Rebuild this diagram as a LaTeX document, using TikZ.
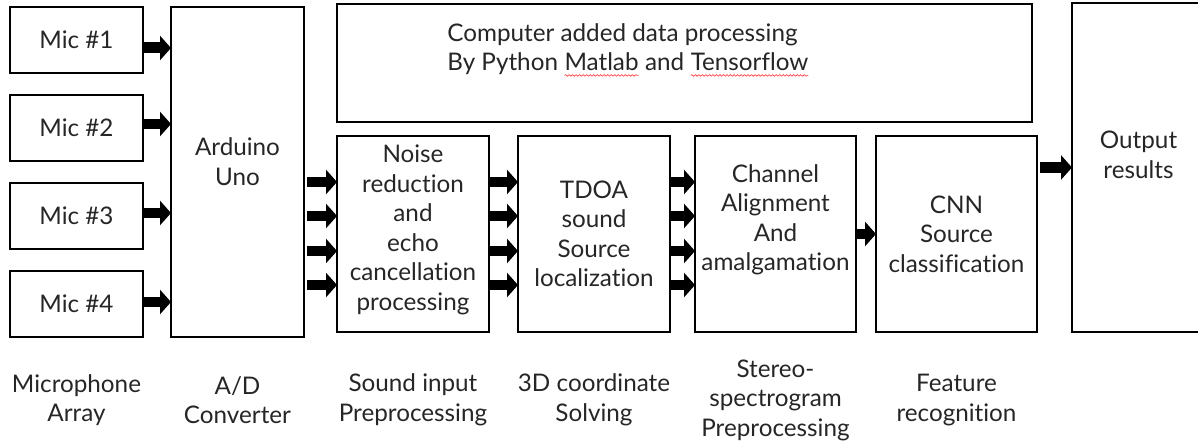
\documentclass[tikz,border=0pt]{standalone}
\usepackage{fontspec}
\setmainfont{Lato}[Ligatures=NoCommon]
\usetikzlibrary{calc}
\usetikzlibrary{arrows.meta}
\usetikzlibrary{decorations.pathmorphing}

% red wavy underline (spell check marks)
\newcommand\spellwave[1]{\tikz[baseline=(w.base)]{\node[inner sep=0pt, outer sep=0pt] (w) {#1};
  \draw[red!80, line width=0.35pt, decorate, decoration={snake, amplitude=0.45pt, segment length=2pt}]
    ([yshift=-2.6pt]w.base west) -- ([yshift=-2.6pt]w.base east);}}

\tikzset{
  box/.style={draw, line width=1.1pt, inner sep=0pt, outer sep=0pt, align=center, text=black!85},
  txt/.style={inner sep=0pt, align=center, text=black!85},
  blk/.style={line width=0.22cm, -{Triangle[length=0.22cm,width=0.48cm]}},
}

\begin{document}
\begin{tikzpicture}[x=0.02cm, y=-0.02cm, font=\fontsize{13.8}{16.8}\selectfont]
\useasboundingbox (0,0) rectangle (1198,446);

% microphone array
\foreach \i/\y in {1/40,2/128,3/216,4/304}
  \node[box, minimum width=2.66cm, minimum height=1.32cm] (mic\i) at (76.5,\y) {Mic \#\i};

% A/D converter
\node[box, minimum width=2.66cm, minimum height=6.6cm] (ard) at (237.5,172) {};
\node[txt] (ardtxt) at (237.5,161.5) {Arduino\\Uno};

\foreach \i/\dy in {1/8,2/-4,3/-3,4/-2}
  \draw[blk] ($(mic\i.east)+(0,\dy)$) -- ($(mic\i.east -| ard.west)+(0,\dy)$);

% computer part
\node[box, minimum width=13.9cm, minimum height=2.36cm] (comp) at (684.5,63) {};
\node[txt, anchor=west, align=left] (comptxt) at (447,50)
  {Computer added data processing\\By Python \spellwave{Matlab} and \spellwave{Tensorflow}};

\node[box, minimum width=3.04cm, minimum height=3.92cm] (noise) at (413,234) {};
\node[txt] (noisetxt) at (413,230) {Noise\\reduction\\and\\echo\\cancellation\\processing};
\node[box, minimum width=3.04cm, minimum height=3.92cm] (tdoa) at (594,234)
  {TDOA\\sound\\Source\\localization};
\node[box, minimum width=3.22cm, minimum height=3.92cm] (chan) at (775.5,234) {};
\node[txt] (chantxt) at (775.5,220) {Channel\\Alignment\\And\\amalgamation};
\node[box, minimum width=3.22cm, minimum height=3.92cm] (cnn) at (956.5,234)
  {CNN\\Source\\classification};

% output
\node[box, minimum width=2.66cm, minimum height=6.58cm] (out) at (1138.5,167.5) {};
\node[txt] (outtxt) at (1138.5,155) {Output\\results};

\foreach \dy in {-52,-18,17,51}{
  \draw[blk] ($(ard.east |- noise)+(3,\dy)$) -- ($(noise.west)+(0,\dy)$);
  \draw[blk] ($(noise.east)+(0,\dy)$) -- ($(tdoa.west)+(0,\dy)$);
  \draw[blk] ($(tdoa.east)+(0,\dy)$) -- ($(chan.west)+(0,\dy)$);
}
\draw[blk] (chan.east) -- (cnn.west);
\draw[blk] ($(cnn.east |- out)+(3,0)$) -- (out.west);

% stage names
\node[txt] (lmic) at (76.5,400) {Microphone\\Array};
\node[txt] (lad) at (237.5,400) {A/D\\Converter};
\node[txt] (lpre) at (413,400) {Sound input\\Preprocessing};
\node[txt] (lsolve) at (594,400) {3D coordinate\\Solving};
\node[txt] (lstereo) at (775.5,400) {Stereo-\\spectrogram\\Preprocessing};
\node[txt] (lfeat) at (956.5,400) {Feature\\recognition};

\end{tikzpicture}
\end{document}
